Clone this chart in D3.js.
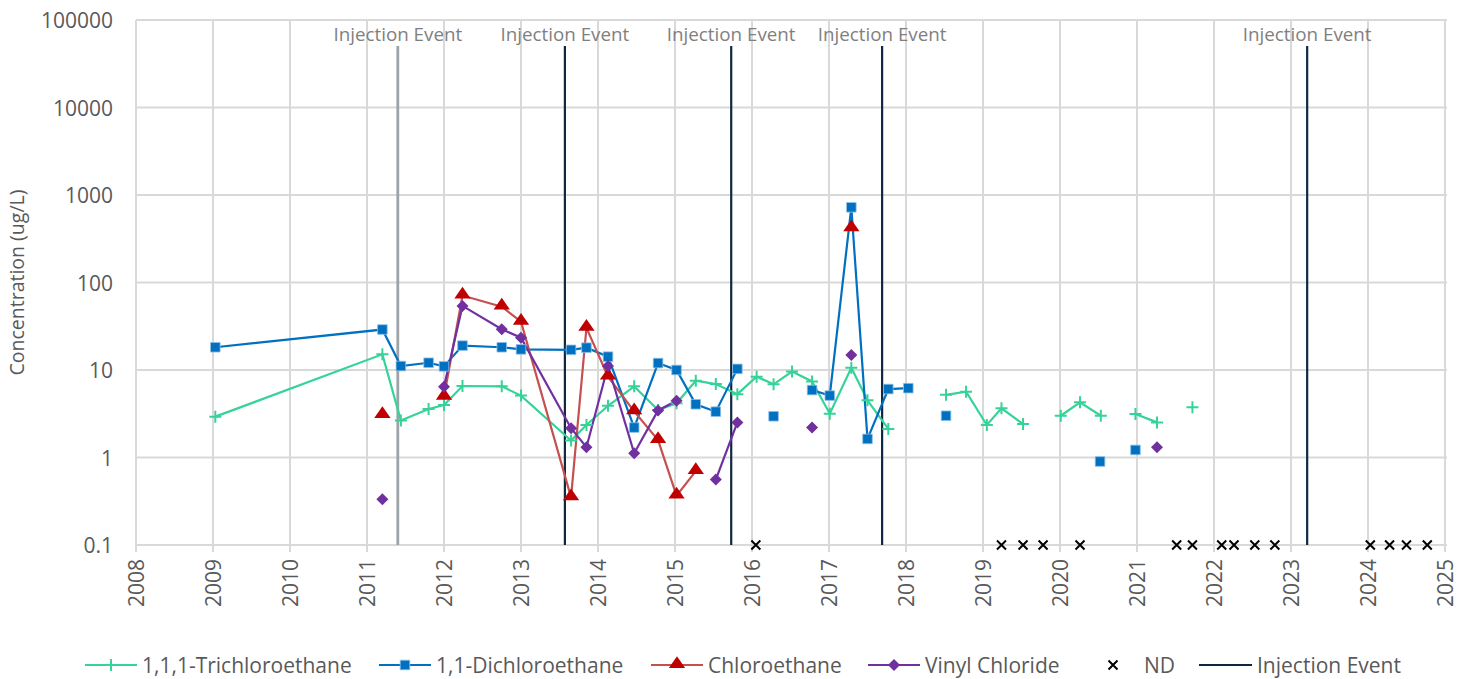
<!DOCTYPE html>
<html>
<head>
<meta charset="utf-8">
<script src="https://cdn.jsdelivr.net/npm/d3@7"></script>
<style>
  html, body { margin: 0; padding: 0; background: #ffffff; }
  svg { display: block; font-family: "Open Sans", Lato, sans-serif; }
</style>
</head>
<body>
<svg id="chart" width="1468" height="679"></svg>
<script>
// ---------------- DATA ----------------
const yTickValues = [0.1, 1, 10, 100, 1000, 10000, 100000];
const yTickLabels = ["0.1", "1", "10", "100", "1000", "10000", "100000"];
const xTickYears = [2008, 2009, 2010, 2011, 2012, 2013, 2014, 2015, 2016, 2017, 2018, 2019, 2020, 2021, 2022, 2023, 2024, 2025];

// 1,1,1-Trichloroethane (null = break in line)
const tcaDates  = [2009.03, 2011.2, 2011.44, 2011.8, 2012.0, 2012.24, 2012.75, 2013.0, 2013.65, 2013.85, 2014.13, 2014.47, 2014.78, 2015.02, 2015.27, 2015.53, 2015.81, 2016.06, 2016.28, 2016.52, 2016.78, 2017.01, 2017.29, 2017.5, 2017.77, 2018.03, 2018.52, 2018.78, 2019.05, 2019.24, 2019.52, 2019.78, 2020.01, 2020.26, 2020.53, 2020.75, 2020.98, 2021.26, 2021.52, 2021.72];
const tcaValues = [2.93, 15.1, 2.64, 3.58, 3.98, 6.56, 6.5, 5.1, 1.56, 2.35, 3.9, 6.5, 3.49, 4.16, 7.55, 6.9, 5.3, 8.4, 6.86, 9.6, 7.4, 3.17, 10.6, 4.5, 2.12, null, 5.2, 5.65, 2.35, 3.65, 2.41, null, 3.0, 4.27, 3.0, null, 3.14, 2.52, null, 3.75];

// 1,1-Dichloroethane
const dcaDates  = [2009.03, 2011.2, 2011.44, 2011.8, 2012.0, 2012.24, 2012.75, 2013.0, 2013.65, 2013.85, 2014.13, 2014.47, 2014.78, 2015.02, 2015.27, 2015.53, 2015.81, 2016.06, 2016.28, 2016.52, 2016.78, 2017.01, 2017.29, 2017.5, 2017.77, 2018.03, 2018.3, 2018.52, 2019.5, 2020.52, 2020.75, 2020.98];
const dcaValues = [18.2, 29, 11.1, 12.1, 11, 19, 18.2, 17.2, 17, 18, 14.2, 2.2, 12, 10, 4.06, 3.34, 10.3, null, 2.96, null, 5.9, 5.1, 723, 1.63, 6.06, 6.2, null, 3.0, null, 0.9, null, 1.22];

// Chloroethane
const caDates  = [2011.2, 2011.6, 2012.0, 2012.24, 2012.75, 2013.0, 2013.65, 2013.85, 2014.13, 2014.47, 2014.78, 2015.02, 2015.27, 2016.5, 2017.29];
const caValues = [3.06, null, 4.95, 71, 53, 35.6, 0.35, 30.4, 8.4, 3.37, 1.58, 0.366, 0.70, null, 416];

// Vinyl Chloride
const vcDates  = [2011.2, 2011.6, 2012.0, 2012.24, 2012.75, 2013.0, 2013.65, 2013.85, 2014.13, 2014.47, 2014.78, 2015.02, 2015.27, 2015.53, 2015.81, 2016.3, 2016.78, 2017.01, 2017.29, 2018.0, 2021.26];
const vcValues = [0.333, null, 6.45, 54, 29.2, 23.4, 2.16, 1.31, 11.1, 1.12, 3.45, 4.46, null, 0.56, 2.52, null, 2.2, null, 14.8, null, 1.31];

// Non-detects (plotted at 0.1)
const ndDates  = [2016.05, 2019.24, 2019.52, 2019.78, 2020.26, 2021.515, 2021.72, 2022.10, 2022.26, 2022.53, 2022.79, 2024.03, 2024.28, 2024.50, 2024.77];
const ndValues = [0.1, 0.1, 0.1, 0.1, 0.1, 0.1, 0.1, 0.1, 0.1, 0.1, 0.1, 0.1, 0.1, 0.1, 0.1];

// Injection events
const injectionDates = [2011.40, 2013.57, 2015.73, 2017.69, 2023.21];
const injectionTop = 50500;
const injectionLabel = "Injection Event";

const seriesNames = ["1,1,1-Trichloroethane", "1,1-Dichloroethane", "Chloroethane", "Vinyl Chloride", "ND", "Injection Event"];
const yAxisTitle = "Concentration (ug/L)";

// ---------------- CHART ----------------
const svg = d3.select("#chart");
const x = d3.scaleLinear().domain([2008, 2025]).range([136, 1445]);
const y = d3.scaleLog().domain([0.1, 100000]).range([545, 20]);

const GRID = "#d9d9d9";
const TEXT = "#595959";
const FONT = "'Open Sans', Lato, sans-serif";

// Gridlines
const g = svg.append("g");
g.selectAll("line.h").data(yTickValues).join("line")
  .attr("x1", x(2008)).attr("x2", x(2025) + 2)
  .attr("y1", d => y(d)).attr("y2", d => y(d))
  .attr("stroke", GRID).attr("stroke-width", 2);
g.selectAll("line.v").data(xTickYears).join("line")
  .attr("x1", d => x(d)).attr("x2", d => x(d))
  .attr("y1", y(100000)).attr("y2", y(0.1) + 7)
  .attr("stroke", GRID).attr("stroke-width", 2);

// Y axis labels
const yAxis = d3.axisLeft(y).tickValues(yTickValues)
  .tickFormat((d, i) => yTickLabels[i]).tickSize(0).tickPadding(0);
const yAxisG = svg.append("g").attr("transform", "translate(113,0)").call(yAxis);
yAxisG.select(".domain").remove();
yAxisG.selectAll("text").attr("fill", TEXT).style("font-size", "21px")
  .style("font-family", FONT).attr("dy", "0.36em");

// X axis labels (rotated)
const xAxis = d3.axisBottom(x).tickValues(xTickYears).tickFormat(d3.format("d")).tickSize(0);
const xAxisG = svg.append("g").attr("transform", `translate(0,${y(0.1)})`).call(xAxis);
xAxisG.select(".domain").remove();
xAxisG.selectAll("text")
  .attr("fill", TEXT).style("font-size", "21px").style("font-family", FONT)
  .attr("text-anchor", "end").attr("transform", "rotate(-90)")
  .attr("x", -14).attr("y", 0).attr("dy", "0.36em");

// Y axis title
svg.append("text")
  .attr("transform", `translate(24,${(y(0.1) + y(100000)) / 2}) rotate(-90)`)
  .attr("text-anchor", "middle").attr("fill", TEXT)
  .style("font-size", "19.5px").text(yAxisTitle);

// Injection events
const injG = svg.append("g");
injG.selectAll("line").data(injectionDates).join("line")
  .attr("x1", d => x(d)).attr("x2", d => x(d))
  .attr("y1", y(injectionTop)).attr("y2", y(0.1))
  .attr("stroke", (d, i) => i === 0 ? "#9ea3a8" : "#0e2841")
  .attr("stroke-width", (d, i) => i === 0 ? 2.8 : 2.2);
injG.selectAll("text").data(injectionDates).join("text")
  .attr("x", d => x(d)).attr("y", 41)
  .attr("text-anchor", "middle").attr("fill", "#7f7f7f")
  .style("font-size", "18.8px").text(injectionLabel);

// Series
function pts(dates, values) { return dates.map((d, i) => ({ t: d, v: values[i] })); }
const line = d3.line().defined(d => d.v !== null).x(d => x(d.t)).y(d => y(d.v));

const series = [
  { name: seriesNames[0], data: pts(tcaDates, tcaValues), line: "#36d399", marker: "plus", fill: "#36d399" },
  { name: seriesNames[1], data: pts(dcaDates, dcaValues), line: "#0070c0", marker: "square", fill: "#0070c0" },
  { name: seriesNames[2], data: pts(caDates, caValues), line: "#c55050", marker: "triangle", fill: "#c00000" },
  { name: seriesNames[3], data: pts(vcDates, vcValues), line: "#7030a0", marker: "diamond", fill: "#7030a0" }
];

const symbolPaths = {
  square: d3.symbol().type(d3.symbolSquare).size(92)(),
  triangle: d3.symbol().type(d3.symbolTriangle).size(80)(),
  diamond: "M0,-6L6,0L0,6L-6,0Z"
};

function drawMarker(sel, s) {
  if (s.marker === "plus") {
    sel.append("path").attr("d", "M-6,0H6M0,-6V6")
      .attr("stroke", s.fill).attr("stroke-width", 2).attr("fill", "none");
  } else if (s.marker === "square") {
    sel.append("path").attr("d", symbolPaths.square).attr("fill", s.fill)
      .attr("stroke", "#8fbfe6").attr("stroke-width", 0.8);
  } else if (s.marker === "triangle") {
    sel.append("path").attr("d", symbolPaths.triangle).attr("fill", s.fill)
      .attr("transform", "translate(0,-1) scale(1.2,1)");
  } else if (s.marker === "diamond") {
    sel.append("path").attr("d", symbolPaths.diamond).attr("fill", s.fill);
  }
}

series.forEach(s => {
  svg.append("path").datum(s.data).attr("d", line)
    .attr("fill", "none").attr("stroke", s.line).attr("stroke-width", 2.2);
});
series.forEach(s => {
  const mg = svg.append("g");
  s.data.filter(d => d.v !== null).forEach(d => {
    const m = mg.append("g").attr("transform", `translate(${x(d.t)},${y(d.v)})`);
    drawMarker(m, s);
  });
});

// ND markers
const ndPts = pts(ndDates, ndValues);
svg.append("g").selectAll("path").data(ndPts).join("path")
  .attr("transform", d => `translate(${x(d.t)},${y(d.v)})`)
  .attr("d", "M-4.5,-4.5L4.5,4.5M-4.5,4.5L4.5,-4.5")
  .attr("stroke", "#000").attr("stroke-width", 2).attr("fill", "none");

// Legend
const legY = 665;
const leg = svg.append("g").style("font-size", "21px");
const legendItems = [
  { s: series[0], x0: 85 },
  { s: series[1], x0: 379 },
  { s: series[2], x0: 651 },
  { s: series[3], x0: 868 }
];
legendItems.forEach(it => {
  leg.append("line").attr("x1", it.x0).attr("x2", it.x0 + 52)
    .attr("y1", legY).attr("y2", legY).attr("stroke", it.s.line).attr("stroke-width", 2.2);
  const m = leg.append("g").attr("transform", `translate(${it.x0 + 26},${legY})`);
  drawMarker(m, it.s);
  leg.append("text").attr("x", it.x0 + 57).attr("y", legY).attr("dy", "0.36em")
    .attr("fill", TEXT).text(it.s.name);
});
// ND legend
leg.append("path").attr("transform", `translate(1113,${legY})`)
  .attr("d", "M-4.5,-4.5L4.5,4.5M-4.5,4.5L4.5,-4.5")
  .attr("stroke", "#000").attr("stroke-width", 2).attr("fill", "none");
leg.append("text").attr("x", 1144).attr("y", legY).attr("dy", "0.36em").attr("fill", TEXT).text(seriesNames[4]);
// Injection legend
leg.append("line").attr("x1", 1199).attr("x2", 1252).attr("y1", legY).attr("y2", legY)
  .attr("stroke", "#0e2841").attr("stroke-width", 2.2);
leg.append("text").attr("x", 1257).attr("y", legY).attr("dy", "0.36em").attr("fill", TEXT).text(seriesNames[5]);
</script>
</body>
</html>
